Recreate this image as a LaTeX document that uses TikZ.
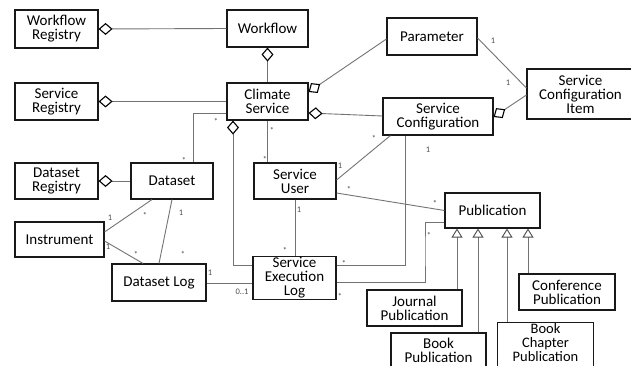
\documentclass[tikz,border=0pt]{standalone}
\usepackage{fontspec}
\setmainfont{Carlito}
\usetikzlibrary{arrows.meta,calc}
\begin{document}
\begin{tikzpicture}[x=1pt,y=-1pt,
  cls/.style={draw=black!90, line width=1.1pt, fill=white, align=center, inner sep=1pt,
              font=\fontsize{15}{14}\selectfont},
  border/.style={draw=black!90, line width=1.1pt},
  conn/.style={draw=black!55, line width=0.9pt},
  agg/.style={conn, {Diamond[open,length=14pt,width=12pt,line width=1.1pt,color=black]}-},
  gen/.style={conn, -{Triangle[open,length=9pt,width=11pt,line width=0.9pt,color=black!70]}},
  mult/.style={font=\fontsize{8.5}{9}\selectfont, text=black!70, inner sep=0pt}
]
\useasboundingbox (0,0) rectangle (631,366);

% classes
\node[cls, minimum width=83pt, minimum height=38pt] (wreg) at (56.5,29)  {Workflow\\Registry};
\node[cls, minimum width=81pt, minimum height=37pt] (wf)   at (267.5,28.5) {Workflow};
\node[cls, minimum width=83pt, minimum height=37pt] (sreg) at (56.5,101.5) {Service\\Registry};
\node[cls, minimum width=81pt, minimum height=37pt] (cs)   at (267.5,101.5) {Climate\\Service};
\node[cls, minimum width=90pt, minimum height=37pt] (par)  at (432,36.5) {Parameter};
\node[cls, minimum width=110pt, minimum height=37pt] (sc)  at (438,116.5) {Service\\Configuration};
\node[cls, minimum width=107pt, minimum height=50pt] (sci) at (580.5,94) {Service\\Configuration\\Item};
\node[cls, minimum width=83pt, minimum height=36pt] (dreg) at (56.5,181) {Dataset\\Registry};
\node[cls, minimum width=82pt, minimum height=36pt] (ds)   at (172,181) {Dataset};
\node[cls, minimum width=82pt, minimum height=36pt] (su)   at (295,181) {Service\\User};
\node[cls, minimum width=89pt, minimum height=35pt] (ins)  at (59.5,239.5) {Instrument};
\node[cls, minimum width=94pt, minimum height=37pt] (dlog) at (159,282.5) {Dataset Log};
\node[cls, minimum width=83pt, minimum height=42pt] (sel)  at (294.5,278) {Service\\Execution\\Log};
\node[cls, minimum width=95pt, minimum height=35pt] (pub)  at (492.5,210.5) {Publication};
\node[cls, minimum width=95pt, minimum height=36pt] (jp)   at (414.5,308) {Journal\\Publication};
\node[cls, minimum width=95pt, minimum height=34pt] (bp)   at (438.5,350) {Book\\Publication};
% the chapter box runs past the lower edge, so only its top and sides are stroked
\node[cls, draw=none, minimum width=95pt, minimum height=40pt, font=\fontsize{14.5}{14}\selectfont]
  (bcp)  at (545.5,343) {Book\\Chapter\\Publication};
\draw[border] ([yshift=-10pt]bcp.south west) |- (bcp.north east) -- ([yshift=-10pt]bcp.south east);
\node[cls, minimum width=96pt, minimum height=36pt] (conf) at (567,292) {Conference\\Publication};

% aggregations
\draw[agg] (wreg.east) -- (wf.west);
\draw[agg] (wf.south) -- (cs.north);
\draw[agg] (sreg.east) -- (cs.west);
\draw[agg] (cs.east |- 0,92) -- (par.west |- 0,39);
\draw[agg] (cs.east |- 0,113) -- (sc.west |- 0,116);
\draw[agg] (sc.east |- 0,117) -- (sci.west |- 0,95);
\draw[agg] (dreg.east) -- (ds.west);
\coordinate (csfoot) at ([xshift=-34.5pt]cs.south);
\draw[agg] (csfoot) |- (sel.west |- 0,265);

% associations
\draw[conn] (par.east |- 0,38) -- (sci.west |- 0,88);
\draw[conn] (cs.west |- 0,113) -| ([xshift=21pt]ds.north);
\draw[conn] (cs.south) -- (cs.south |- su.north);
\draw[conn] ([xshift=8pt]sc.south west) -- (su.east |- 0,180);
\draw[conn] (su.east |- 0,193) -- (pub.west);
\draw[conn] ([xshift=-33pt]sc.south) |- (sel.east |- 0,265);
\draw[conn] (su.south) -- (su.south |- sel.north);
\coordinate (pbend) at (425,250);
\draw[conn] (pub.west |- 0,222) -| (pbend) |- (sel.east |- 0,282);
\draw[conn] ([xshift=-20pt]ds.south) -- (ins.east |- 0,232);
\draw[conn] (ins.east |- 0,241) -- ([xshift=-16pt]dlog.north);
\draw[conn] (ds.south) -- ([xshift=0pt]dlog.north);
\draw[conn] (dlog.east |- 0,283) -- (sel.west |- 0,283);

% generalizations
\coordinate (g1) at ([xshift=-35.5pt]pub.south);
\coordinate (g2) at ([xshift=-14.5pt]pub.south);
\coordinate (g3) at ([xshift=14.5pt]pub.south);
\coordinate (g4) at ([xshift=35.5pt]pub.south);
\draw[gen] (g1 |- jp.north) -- (g1);
\draw[gen] (g2 |- bp.north) -- (g2);
\draw[gen] (g3 |- bcp.north) -- (g3);
\draw[gen] (g4 |- conf.north) -- (g4);

% multiplicities
\node[mult] (m1)  at (493,41)  {1};
\node[mult] (m2)  at (508,83)  {1};
\node[mult] (m3)  at (428,150) {1};
\node[mult] (m4)  at (374,138) {*};
\node[mult] (m5)  at (340,166) {1};
\node[mult] (m6)  at (349,189) {*};
\node[mult] (m7)  at (435,203) {*};
\node[mult] (m8)  at (216,121) {*};
\node[mult] (m9)  at (184,160) {*};
\node[mult] (m10) at (272,130) {*};
\node[mult] (m11) at (265,159) {*};
\node[mult] (m12) at (299,210) {1};
\node[mult] (m13) at (285,250) {*};
\node[mult] (m14) at (344,263) {*};
\node[mult] (m15) at (429,235) {*};
\node[mult] (m16) at (340,296) {*};
\node[mult] (m17) at (110,218) {1};
\node[mult] (m18) at (145,215) {*};
\node[mult] (m19) at (108,247) {1};
\node[mult] (m20) at (136,254) {*};
\node[mult] (m21) at (181,213) {1};
\node[mult] (m22) at (183,254) {*};
\node[mult] (m23) at (210,273) {1};
\node[mult] (m24) at (242,292) {0..1};
\end{tikzpicture}
\end{document}
